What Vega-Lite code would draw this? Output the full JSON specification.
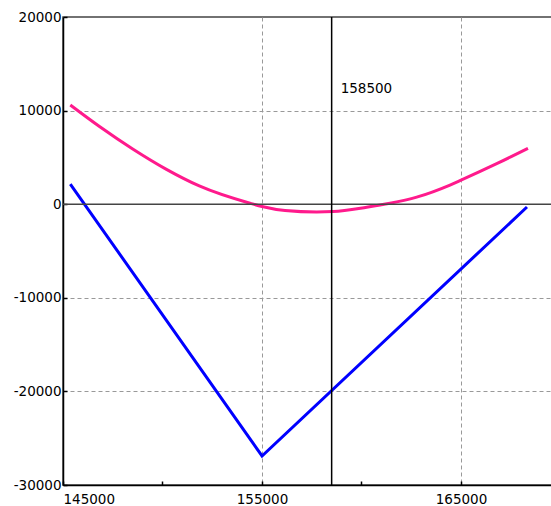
{
  "$schema": "https://vega.github.io/schema/vega-lite/v6.json",
  "width": 500,
  "height": 468,
  "autosize": {"type": "none"},
  "padding": {"left": 63, "top": 17, "right": 0, "bottom": 21},
  "background": "white",
  "config": {
    "view": {"stroke": "#444", "strokeWidth": 1.5},
    "font": "DejaVu Sans",
    "axis": {
      "domainColor": "black",
      "domainWidth": 1.5,
      "tickColor": "black",
      "tickWidth": 1.5,
      "tickSize": -4,
      "labelColor": "black",
      "labelFont": "DejaVu Sans",
      "labelFontSize": 13.5,
      "gridColor": "#999",
      "gridDash": [4, 3],
      "gridWidth": 1,
      "title": null
    }
  },
  "datasets": {
    "current": [
      {"x": 145367, "y": 10600, "series": "current"},
      {"x": 146834, "y": 8300, "series": "current"},
      {"x": 148503, "y": 5900, "series": "current"},
      {"x": 150176, "y": 3750, "series": "current"},
      {"x": 151849, "y": 1950, "series": "current"},
      {"x": 154397, "y": 100, "series": "current"},
      {"x": 155000, "y": -250, "series": "current"},
      {"x": 156156, "y": -680, "series": "current"},
      {"x": 157749, "y": -840, "series": "current"},
      {"x": 158568, "y": -790, "series": "current"},
      {"x": 160261, "y": -320, "series": "current"},
      {"x": 161432, "y": 100, "series": "current"},
      {"x": 162774, "y": 760, "series": "current"},
      {"x": 164447, "y": 2050, "series": "current"},
      {"x": 165000, "y": 2570, "series": "current"},
      {"x": 166794, "y": 4330, "series": "current"},
      {"x": 168366, "y": 5970, "series": "current"}
    ],
    "expiry": [
      {"x": 145367, "y": 2150, "series": "expiry"},
      {"x": 155000, "y": -26900, "series": "expiry"},
      {"x": 168316, "y": -300, "series": "expiry"}
    ],
    "zero": [{"y": 0}],
    "marker": [{"x": 158500, "y": 12300, "label": "158500"}]
  },
  "layer": [
    {
      "data": {"name": "current"},
      "mark": {"type": "line", "strokeWidth": 3, "interpolate": "monotone", "color": "#ff1a8c"},
      "encoding": {
        "x": {
          "field": "x",
          "type": "quantitative",
          "scale": {"domain": [145000, 170126], "nice": false, "zero": false},
          "axis": {
            "values": [145000, 150000, 155000, 160000, 165000],
            "labelExpr": "datum.value % 10000 == 5000 ? toString(datum.value) : ''",
            "labelFlush": true,
            "labelPadding": 11,
            "grid": true,
            "gridOpacity": {"condition": {"test": "datum.value == 155000 || datum.value == 165000", "value": 1}, "value": 0}
          }
        },
        "y": {
          "field": "y",
          "type": "quantitative",
          "scale": {"domain": [-30000, 20000], "nice": false, "zero": false},
          "axis": {
            "values": [-30000, -20000, -10000, 0, 10000, 20000],
            "labelExpr": "toString(datum.value)",
            "labelPadding": 6,
            "grid": true,
            "gridOpacity": {"condition": {"test": "datum.value == 10000 || datum.value == -10000 || datum.value == -20000", "value": 1}, "value": 0}
          }
        }
      }
    },
    {
      "data": {"name": "expiry"},
      "mark": {"type": "line", "strokeWidth": 3, "color": "#0000ff"},
      "encoding": {
        "x": {"field": "x", "type": "quantitative"},
        "y": {"field": "y", "type": "quantitative"}
      }
    },
    {
      "data": {"name": "zero"},
      "mark": {"type": "rule", "color": "#444", "strokeWidth": 1.5},
      "encoding": {"y": {"field": "y", "type": "quantitative"}}
    },
    {
      "data": {"name": "marker"},
      "mark": {"type": "rule", "color": "black", "strokeWidth": 1.5},
      "encoding": {"x": {"field": "x", "type": "quantitative"}}
    },
    {
      "data": {"name": "marker"},
      "mark": {"type": "text", "align": "left", "baseline": "middle", "dx": 9, "font": "DejaVu Sans", "fontSize": 13.5, "color": "black"},
      "encoding": {
        "x": {"field": "x", "type": "quantitative"},
        "y": {"field": "y", "type": "quantitative"},
        "text": {"field": "label"}
      }
    }
  ]
}
